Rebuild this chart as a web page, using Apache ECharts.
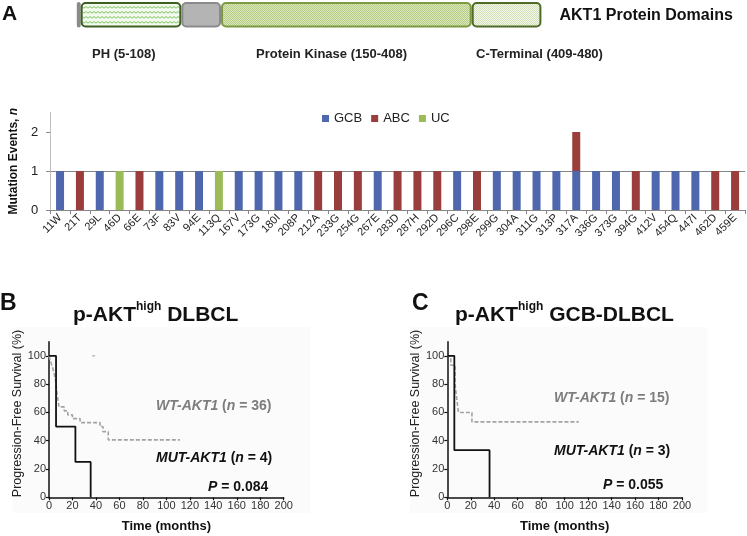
<!DOCTYPE html>
<html><head><meta charset="utf-8">
<script src="https://cdn.jsdelivr.net/npm/echarts@6/dist/echarts.min.js"></script>
<style>html,body{margin:0;padding:0;background:#fff}#c{width:747px;height:536px}</style>
</head><body><div id="c"></div>
<script>
// ---------- DATA ----------
// AKT1 protein domains (residue ranges)
const domainStart = [1, 5, 109, 150, 409];
const domainEnd   = [4, 108, 149, 408, 480];
const domainKind  = ['gray', 'ph', 'gray', 'kinase', 'cterm'];
const domainLabels = ['PH (5-108)', 'Protein Kinase (150-408)', 'C-Terminal (409-480)'];

// Mutation events per position
const mutations = ['11W','21T','29L','46D','66E','73F','83V','94E','113Q','167V','173G','180I','208P','212A','233G','254G','267E','283D','287H','292D','296C','298E','299G','304A','311G','313P','317A','336G','373G','394G','412V','454Q','447I','462D','459E'];
const gcb = [1,0,1,0,0,1,1,1,0,1,1,1,1,0,0,0,1,0,0,0,1,0,1,1,1,1,1,1,1,0,1,1,1,0,0];
const abc = [0,1,0,0,1,0,0,0,0,0,0,0,0,1,1,1,0,1,1,1,0,1,0,0,0,0,1,0,0,1,0,0,0,1,1];
const uc  = [0,0,0,1,0,0,0,0,1,0,0,0,0,0,0,0,0,0,0,0,0,0,0,0,0,0,0,0,0,0,0,0,0,0,0];
const barTicks = [0, 1, 2];

// Kaplan-Meier: panel B (p-AKT high DLBCL)
const bMutTime = [0, 6, 22.5, 35.5];
const bMutSurv = [100, 50, 25, 0];
const bWtTime  = [0, 1, 2, 3, 4, 5.5, 7, 8.5, 13, 16, 20, 26.5, 43.5, 46, 50.5, 111.5];
const bWtSurv  = [100, 97.2, 94.4, 91.7, 88.9, 83.3, 72.2, 63.9, 61.1, 58.3, 55.6, 52.8, 50, 46.4, 40.6, 40.6];
const bCensor  = [[38, 100]];
// Kaplan-Meier: panel C (p-AKT high GCB-DLBCL)
const cMutTime = [0, 6, 36];
const cMutSurv = [100, 33.3, 0];
const cWtTime  = [0, 3, 6.6, 7.5, 8.5, 9.5, 21, 112];
const cWtSurv  = [100, 93.3, 80, 73.3, 66.7, 60, 53.3, 53.3];
const kmTicksY = [0, 20, 40, 60, 80, 100];

// ---------- CHART ----------
const FONT = '"Liberation Sans", Arial, Helvetica, sans-serif';
const zip = (a, b) => a.map((v, i) => [v, b[i]]);

function pattern(w, h, draw) {
  const c = document.createElement('canvas'); c.width = w; c.height = h;
  draw(c.getContext('2d')); return { image: c, repeat: 'repeat' };
}
const phFill = pattern(8, 5, g => {
  g.fillStyle = '#f3faee'; g.fillRect(0, 0, 8, 5);
  g.strokeStyle = '#7cc462'; g.lineWidth = 1; g.beginPath();
  g.moveTo(0, 3.2); g.lineTo(2, 1.5); g.lineTo(4, 3.2); g.lineTo(6, 1.5); g.lineTo(8, 3.2); g.stroke();
});
const kinFill = pattern(2, 2, g => {
  g.fillStyle = '#dbe7bd'; g.fillRect(0, 0, 2, 2);
  g.fillStyle = '#b6cb84'; g.fillRect(0, 0, 1, 1); g.fillRect(1, 1, 1, 1);
});
const ctFill = pattern(2, 2, g => {
  g.fillStyle = '#f4f8ec'; g.fillRect(0, 0, 2, 2);
  g.fillStyle = '#d3e0b6'; g.fillRect(0, 0, 1, 1); g.fillRect(1, 1, 1, 1);
});
const kindStyle = {
  gray:   { fill: '#b4b4b4', stroke: '#8a8a8a' },
  ph:     { fill: phFill,    stroke: '#3f5f22' },
  kinase: { fill: kinFill,   stroke: '#7b9a41' },
  cterm:  { fill: ctFill,    stroke: '#4f6a2a' }
};
const kindIndex = ['gray', 'ph', 'kinase', 'cterm'];
const domainData = domainStart.map((s, i) => [s, domainEnd[i], kindIndex.indexOf(domainKind[i])]);

function txt(x, y, text, opt) {
  return Object.assign({ type: 'text', x: x, y: y, z: 50,
    style: Object.assign({ text: text, fontFamily: FONT, fill: '#222', verticalAlign: 'middle' }, opt || {}) });
}
function kmRich(color) {
  return {
    i: { fontFamily: FONT, fontSize: 14, fontWeight: 'bold', fontStyle: 'italic', fill: color, color: color },
    b: { fontFamily: FONT, fontSize: 14, fontWeight: 'bold', fill: color, color: color }
  };
}
const titleRich = {
  m: { fontFamily: FONT, fontSize: 21, fontWeight: 'bold', lineHeight: 30, fill: '#111' },
  s: { fontFamily: FONT, fontSize: 12, fontWeight: 'bold', lineHeight: 6, verticalAlign: 'top', fill: '#111' }
};

function kmX(grid, name) {
  return {
    type: 'value', gridIndex: grid, min: 0, max: 200, interval: 20,
    name: name, nameLocation: 'middle', nameGap: 23,
    nameTextStyle: { fontFamily: FONT, fontSize: 13, fontWeight: 'bold', color: '#111' },
    axisLine: { show: true, lineStyle: { color: '#111', width: 1.5 } },
    axisTick: { show: true, length: 3, lineStyle: { color: '#111', width: 1.2 } },
    axisLabel: { fontFamily: FONT, fontSize: 11, color: '#333', margin: 3 },
    splitLine: { show: false }
  };
}
function kmY(grid) {
  return {
    type: 'value', gridIndex: grid, min: 0, max: 110, interval: 20,
    name: 'Progression-Free Survival (%)', nameLocation: 'middle', nameRotate: 90, nameGap: 16,
    nameTextStyle: { fontFamily: FONT, fontSize: 12.5, color: '#222', padding: [0, 0, 0, 12] },
    axisLine: { show: true, lineStyle: { color: '#111', width: 1.5 } },
    axisTick: { show: true, length: 3, customValues: kmTicksY, lineStyle: { color: '#111', width: 1.2 } },
    axisLabel: { fontFamily: FONT, fontSize: 11, color: '#333', margin: 3, customValues: kmTicksY },
    splitLine: { show: false }
  };
}
function mutLine(x, y, data) {
  return { type: 'line', xAxisIndex: x, yAxisIndex: y, data: data, step: 'end', symbol: 'none',
    lineStyle: { color: '#111', width: 1.8 }, z: 4, animation: false };
}
function wtLine(x, y, data) {
  return { type: 'line', xAxisIndex: x, yAxisIndex: y, data: data, step: 'end', symbol: 'none',
    lineStyle: { color: '#a3a3a3', width: 1.6, type: [4, 2] }, z: 3, animation: false };
}

const option = {
  animation: false,
  backgroundColor: '#fff',
  textStyle: { fontFamily: FONT },
  grid: [
    { left: 76.8, top: 2, width: 464.6, height: 25.5 },
    { left: 39, top: 112.5, width: 706, height: 97.5 },
    { left: 49, top: 341.7, width: 234.7, height: 155.6 },
    { left: 447.3, top: 341.7, width: 234.7, height: 155.6 }
  ],
  legend: {
    data: ['GCB', 'ABC', 'UC'], left: 322, top: 112, padding: 0,
    icon: 'rect', itemWidth: 7, itemHeight: 7, itemGap: 9,
    textStyle: { fontFamily: FONT, fontSize: 13, color: '#222' }
  },
  xAxis: [
    { type: 'value', gridIndex: 0, min: 0, max: 480, show: false },
    { type: 'category', gridIndex: 1, data: mutations,
      axisLine: { lineStyle: { color: '#868686', width: 1 } },
      axisTick: { show: true, length: 4, lineStyle: { color: '#868686' } },
      axisLabel: { rotate: 45, interval: 0, fontFamily: FONT, fontSize: 11, color: '#222', margin: 6 } },
    kmX(2, 'Time (months)'),
    kmX(3, 'Time (months)')
  ],
  yAxis: [
    { type: 'value', gridIndex: 0, min: 0, max: 1, show: false },
    { type: 'value', gridIndex: 1, min: 0, max: 2.5, interval: 1,
      name: '{b|Mutation Events, }{i|n}', nameLocation: 'middle', nameRotate: 90, nameGap: 27,
      nameTextStyle: { rich: {
        b: { fontFamily: FONT, fontSize: 12, fontWeight: 'bold', color: '#111' },
        i: { fontFamily: FONT, fontSize: 12, fontWeight: 'bold', fontStyle: 'italic', color: '#111' } } },
      axisLine: { show: true, lineStyle: { color: '#bfbfbf', width: 1 } },
      axisTick: { show: true, length: 4, customValues: barTicks, lineStyle: { color: '#868686' } },
      axisLabel: { fontFamily: FONT, fontSize: 13, color: '#222', margin: 12, customValues: barTicks },
      splitLine: { show: true, showMaxLine: false, lineStyle: { color: '#868686', width: 1 } } },
    kmY(2),
    kmY(3)
  ],
  series: [
    { type: 'custom', xAxisIndex: 0, yAxisIndex: 0, data: domainData, silent: true,
      renderItem: function (params, api) {
        const s = api.value(0), e = api.value(1), k = kindIndex[api.value(2)];
        const p0 = api.coord([s - 1, 1]), p1 = api.coord([e, 0]);
        const st = kindStyle[k];
        return { type: 'rect',
          shape: { x: p0[0] + 1, y: p0[1] + 1, width: p1[0] - p0[0] - 2, height: p1[1] - p0[1] - 2, r: 4 },
          style: { fill: st.fill, stroke: st.stroke, lineWidth: 2 } };
      } },
    { name: 'GCB', type: 'bar', xAxisIndex: 1, yAxisIndex: 1, stack: 'm', barWidth: 8, data: gcb, itemStyle: { color: '#4f67ad' } },
    { name: 'ABC', type: 'bar', xAxisIndex: 1, yAxisIndex: 1, stack: 'm', barWidth: 8, data: abc, itemStyle: { color: '#9a3d3d' } },
    { name: 'UC',  type: 'bar', xAxisIndex: 1, yAxisIndex: 1, stack: 'm', barWidth: 8, data: uc,  itemStyle: { color: '#9bbb59' } },
    wtLine(2, 2, zip(bWtTime, bWtSurv)),
    mutLine(2, 2, zip(bMutTime, bMutSurv)),
    { type: 'scatter', xAxisIndex: 2, yAxisIndex: 2, data: bCensor, symbol: 'rect', symbolSize: [3, 1.2],
      itemStyle: { color: '#9a9a9a' }, silent: true },
    wtLine(3, 3, zip(cWtTime, cWtSurv)),
    mutLine(3, 3, zip(cMutTime, cMutSurv))
  ],
  graphic: [
    { type: 'rect', z: -10, shape: { x: 13, y: 327, width: 297, height: 186 }, style: { fill: '#fbfbfb' } },
    { type: 'rect', z: -10, shape: { x: 410, y: 327, width: 297, height: 186 }, style: { fill: '#fbfbfb' } },
    txt(2, 14, 'A', { fontSize: 21, fontWeight: 'bold', fill: '#111' }),
    txt(559.5, 16, 'AKT1 Protein Domains', { fontSize: 16, fontWeight: 'bold', fill: '#111' }),
    txt(92, 54, domainLabels[0], { fontSize: 13, fontWeight: 'bold' }),
    txt(256, 54, domainLabels[1], { fontSize: 13, fontWeight: 'bold' }),
    txt(476, 54, domainLabels[2], { fontSize: 13, fontWeight: 'bold' }),
    txt(0, 303.5, 'B', { fontSize: 23, fontWeight: 'bold', fill: '#111' }),
    txt(412, 303.5, 'C', { fontSize: 23, fontWeight: 'bold', fill: '#111' }),
    { type: 'text', x: 73, y: 300.7, z: 50, style: { text: '{m|p-AKT}{s|high}{m| DLBCL}', rich: titleRich, verticalAlign: 'top' } },
    { type: 'text', x: 455, y: 300.7, z: 50, style: { text: '{m|p-AKT}{s|high}{m| GCB-DLBCL}', rich: titleRich, verticalAlign: 'top' } },
    { type: 'text', x: 156, y: 406, z: 50, style: { text: '{i|WT-AKT1}{b| (}{i|n}{b| = 36)}', rich: kmRich('#7d7d7d'), verticalAlign: 'middle' } },
    { type: 'text', x: 156, y: 457.7, z: 50, style: { text: '{i|MUT-AKT1}{b| (}{i|n}{b| = 4)}', rich: kmRich('#111'), verticalAlign: 'middle' } },
    { type: 'text', x: 208, y: 486.7, z: 50, style: { text: '{i|P}{b| = 0.084}', rich: kmRich('#111'), verticalAlign: 'middle' } },
    { type: 'text', x: 554, y: 398.3, z: 50, style: { text: '{i|WT-AKT1}{b| (}{i|n}{b| = 15)}', rich: kmRich('#7d7d7d'), verticalAlign: 'middle' } },
    { type: 'text', x: 554, y: 450.7, z: 50, style: { text: '{i|MUT-AKT1}{b| (}{i|n}{b| = 3)}', rich: kmRich('#111'), verticalAlign: 'middle' } },
    { type: 'text', x: 603, y: 485, z: 50, style: { text: '{i|P}{b| = 0.055}', rich: kmRich('#111'), verticalAlign: 'middle' } }
  ]
};
const chart = echarts.init(document.getElementById('c'));
chart.setOption(option);
</script>
</body></html>
